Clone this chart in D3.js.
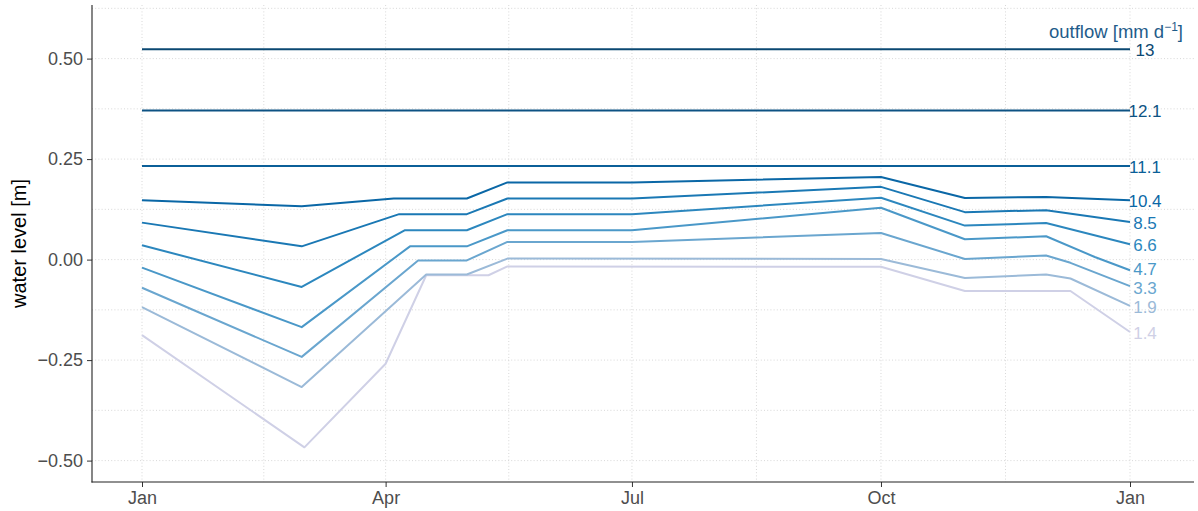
<!DOCTYPE html>
<html>
<head>
<meta charset="utf-8">
<script src="https://cdn.jsdelivr.net/npm/d3@7"></script>
<style>
  html, body { margin: 0; padding: 0; background: #fff; }
  svg { display: block; font-family: "Liberation Sans", Arial, Helvetica, sans-serif; }
</style>
</head>
<body>
<svg id="chart" width="1198" height="511"></svg>
<script>
// Outflow scenarios (mm/day) and matching line colours
const outflows = [13, 12.1, 11.1, 10.4, 8.5, 6.6, 4.7, 3.3, 1.9, 1.4];
const lineColors = ["#0b4872", "#0d5283", "#0b5f98", "#0a67a6", "#1a78b4",
                    "#2c87be", "#4a98c8", "#6aa6cf", "#9bbad8", "#cfd0e6"];

// Water level [m] over the year for each outflow scenario
const level13   = [["2021-01-01", 0.523], ["2022-01-01", 0.523]];
const level12_1 = [["2021-01-01", 0.371], ["2022-01-01", 0.371]];
const level11_1 = [["2021-01-01", 0.233], ["2022-01-01", 0.233]];
const level10_4 = [["2021-01-01", 0.1475], ["2021-03-01", 0.133], ["2021-04-04", 0.152],
                   ["2021-05-01", 0.152], ["2021-05-16", 0.192], ["2021-07-01", 0.192],
                   ["2021-10-01", 0.2055], ["2021-11-01", 0.153], ["2021-12-01", 0.156],
                   ["2022-01-01", 0.1475]];
const level8_5  = [["2021-01-01", 0.092], ["2021-03-01", 0.033], ["2021-04-06", 0.113],
                   ["2021-05-01", 0.113], ["2021-05-16", 0.152], ["2021-07-01", 0.152],
                   ["2021-10-01", 0.181], ["2021-11-01", 0.118], ["2021-12-01", 0.123],
                   ["2022-01-01", 0.0935]];
const level6_6  = [["2021-01-01", 0.0356], ["2021-03-01", -0.068], ["2021-04-08", 0.073],
                   ["2021-05-01", 0.073], ["2021-05-16", 0.113], ["2021-07-01", 0.113],
                   ["2021-10-01", 0.154], ["2021-11-01", 0.0846], ["2021-12-01", 0.091],
                   ["2022-01-01", 0.038]];
const level4_7  = [["2021-01-01", -0.020], ["2021-03-01", -0.168], ["2021-04-10", 0.033],
                   ["2021-05-01", 0.033], ["2021-05-16", 0.073], ["2021-07-01", 0.073],
                   ["2021-10-01", 0.129], ["2021-11-01", 0.0505], ["2021-12-01", 0.058],
                   ["2021-12-19", 0.0065], ["2022-01-01", -0.0266]];
const level3_3  = [["2021-01-01", -0.070], ["2021-03-01", -0.242], ["2021-04-13", -0.002],
                   ["2021-05-01", -0.002], ["2021-05-16", 0.044], ["2021-07-01", 0.044],
                   ["2021-10-01", 0.066], ["2021-11-01", 0.0015], ["2021-12-01", 0.010],
                   ["2021-12-10", -0.008], ["2022-01-01", -0.066]];
const level1_9  = [["2021-01-01", -0.118], ["2021-03-01", -0.317], ["2021-04-16", -0.037],
                   ["2021-05-01", -0.037], ["2021-05-16", 0.0025], ["2021-10-01", 0.0015],
                   ["2021-11-01", -0.046], ["2021-12-01", -0.037], ["2021-12-10", -0.047],
                   ["2022-01-01", -0.115]];
const level1_4  = [["2021-01-01", -0.188], ["2021-03-02", -0.467], ["2021-04-01", -0.259],
                   ["2021-04-16", -0.039], ["2021-05-09", -0.039], ["2021-05-16", -0.017],
                   ["2021-10-01", -0.018], ["2021-11-01", -0.078], ["2021-12-10", -0.078],
                   ["2022-01-01", -0.180]];

const levels = [level13, level12_1, level11_1, level10_4, level8_5,
                level6_6, level4_7, level3_3, level1_9, level1_4];

// Axis ticks
const xTickDates = ["2021-01-01", "2021-04-01", "2021-07-01", "2021-10-01", "2022-01-01"];
const xTickLabels = ["Jan", "Apr", "Jul", "Oct", "Jan"];
const yTicks = [-0.5, -0.25, 0, 0.25, 0.5];
const yMinorTicks = [-0.375, -0.125, 0.125, 0.375, 0.625];

const parse = d3.utcParse("%Y-%m-%d");
const svg = d3.select("#chart");

// Panel extents
const panel = { left: 92, right: 1194, top: 5, bottom: 482 };

const x = d3.scaleUtc()
  .domain([parse("2021-01-01"), parse("2022-01-01")])
  .range([142, 1130]);
const y = d3.scaleLinear()
  .domain([-0.5, 0.5])
  .range([460.6, 58.6]);

// Minor x breaks sit midway between the major ones
const xMajor = xTickDates.map(parse);
const xMinor = d3.pairs(xMajor).map(([a, b]) => new Date((+a + +b) / 2));

const grid = svg.append("g").attr("class", "grid")
  .attr("stroke", "#d4d4d4").attr("stroke-width", 0.9)
  .attr("stroke-dasharray", "1,2.2").attr("fill", "none");

[...yTicks, ...yMinorTicks].forEach(v => {
  grid.append("line")
    .attr("x1", panel.left).attr("x2", panel.right)
    .attr("y1", y(v)).attr("y2", y(v));
});
[...xMajor, ...xMinor].forEach(d => {
  grid.append("line")
    .attr("x1", x(d)).attr("x2", x(d))
    .attr("y1", panel.top).attr("y2", panel.bottom);
});

// Lines
const line = d3.line()
  .x(d => x(parse(d[0])))
  .y(d => y(d[1]));

const linesG = svg.append("g").attr("class", "lines");
// draw lightest first so darker lines sit on top
levels.map((s, i) => ({ s, i })).reverse().forEach(({ s, i }) => {
  linesG.append("path")
    .datum(s)
    .attr("d", line)
    .attr("fill", "none")
    .attr("stroke", lineColors[i])
    .attr("stroke-width", 2)
    .attr("stroke-linejoin", "round");
});

// End labels, nudged apart vertically so neighbours do not collide
const labelGap = 19;
const labelPos = levels.map((s, i) => {
  const last = s[s.length - 1];
  return { i, x: x(parse(last[0])) + 15, y: y(last[1]) + 1.5 };
});
for (let iter = 0; iter < 50; iter++) {
  let moved = false;
  for (let k = 1; k < labelPos.length; k++) {
    const a = labelPos[k - 1], b = labelPos[k];
    const overlap = labelGap - (b.y - a.y);
    if (overlap > 0.01) {
      a.y -= overlap / 2;
      b.y += overlap / 2;
      moved = true;
    }
  }
  if (!moved) break;
}

const labelsG = svg.append("g").attr("class", "labels");
labelPos.forEach(p => {
  labelsG.append("text")
    .attr("x", p.x)
    .attr("y", p.y)
    .attr("text-anchor", "middle")
    .attr("dominant-baseline", "central")
    .attr("font-size", 17)
    .attr("fill", lineColors[p.i])
    .text(outflows[p.i]);
});

// Legend title for the labels
const title = svg.append("text")
  .attr("x", 1183).attr("y", 38)
  .attr("text-anchor", "end")
  .attr("font-size", 18.5)
  .attr("fill", "#1f5c8a");
title.append("tspan").text("outflow [mm d");
title.append("tspan").attr("dy", -7).attr("font-size", 12).text("\u22121");
title.append("tspan").attr("dy", 7).text("]");

// Axes
const yAxis = d3.axisLeft(y).tickValues(yTicks).tickFormat(d3.format(".2f")).tickSize(5).tickPadding(4);
const xAxis = d3.axisBottom(x).tickValues(xMajor)
  .tickFormat((d, i) => xTickLabels[i]).tickSize(5).tickPadding(4);

const gy = svg.append("g").attr("transform", `translate(${panel.left},0)`).call(yAxis);
const gx = svg.append("g").attr("transform", `translate(0,${panel.bottom})`).call(xAxis);

[gy, gx].forEach(g => {
  g.select(".domain").remove();
  g.selectAll(".tick line").attr("stroke", "#333").attr("stroke-width", 1);
  g.selectAll(".tick text").attr("fill", "#4d4d4d").attr("font-size", 18)
    .attr("font-family", "Liberation Sans, Arial, sans-serif");
});

// axis lines
svg.append("line").attr("x1", panel.left).attr("x2", panel.left)
  .attr("y1", panel.top).attr("y2", panel.bottom + 0.5)
  .attr("stroke", "#222").attr("stroke-width", 1.1);
svg.append("line").attr("x1", panel.left - 0.5).attr("x2", panel.right)
  .attr("y1", panel.bottom).attr("y2", panel.bottom)
  .attr("stroke", "#222").attr("stroke-width", 1.1);

// Y axis title
svg.append("text")
  .attr("transform", `translate(26,${(panel.top + panel.bottom) / 2}) rotate(-90)`)
  .attr("text-anchor", "middle")
  .attr("font-size", 20)
  .attr("fill", "#000")
  .text("water level [m]");
</script>
</body>
</html>
